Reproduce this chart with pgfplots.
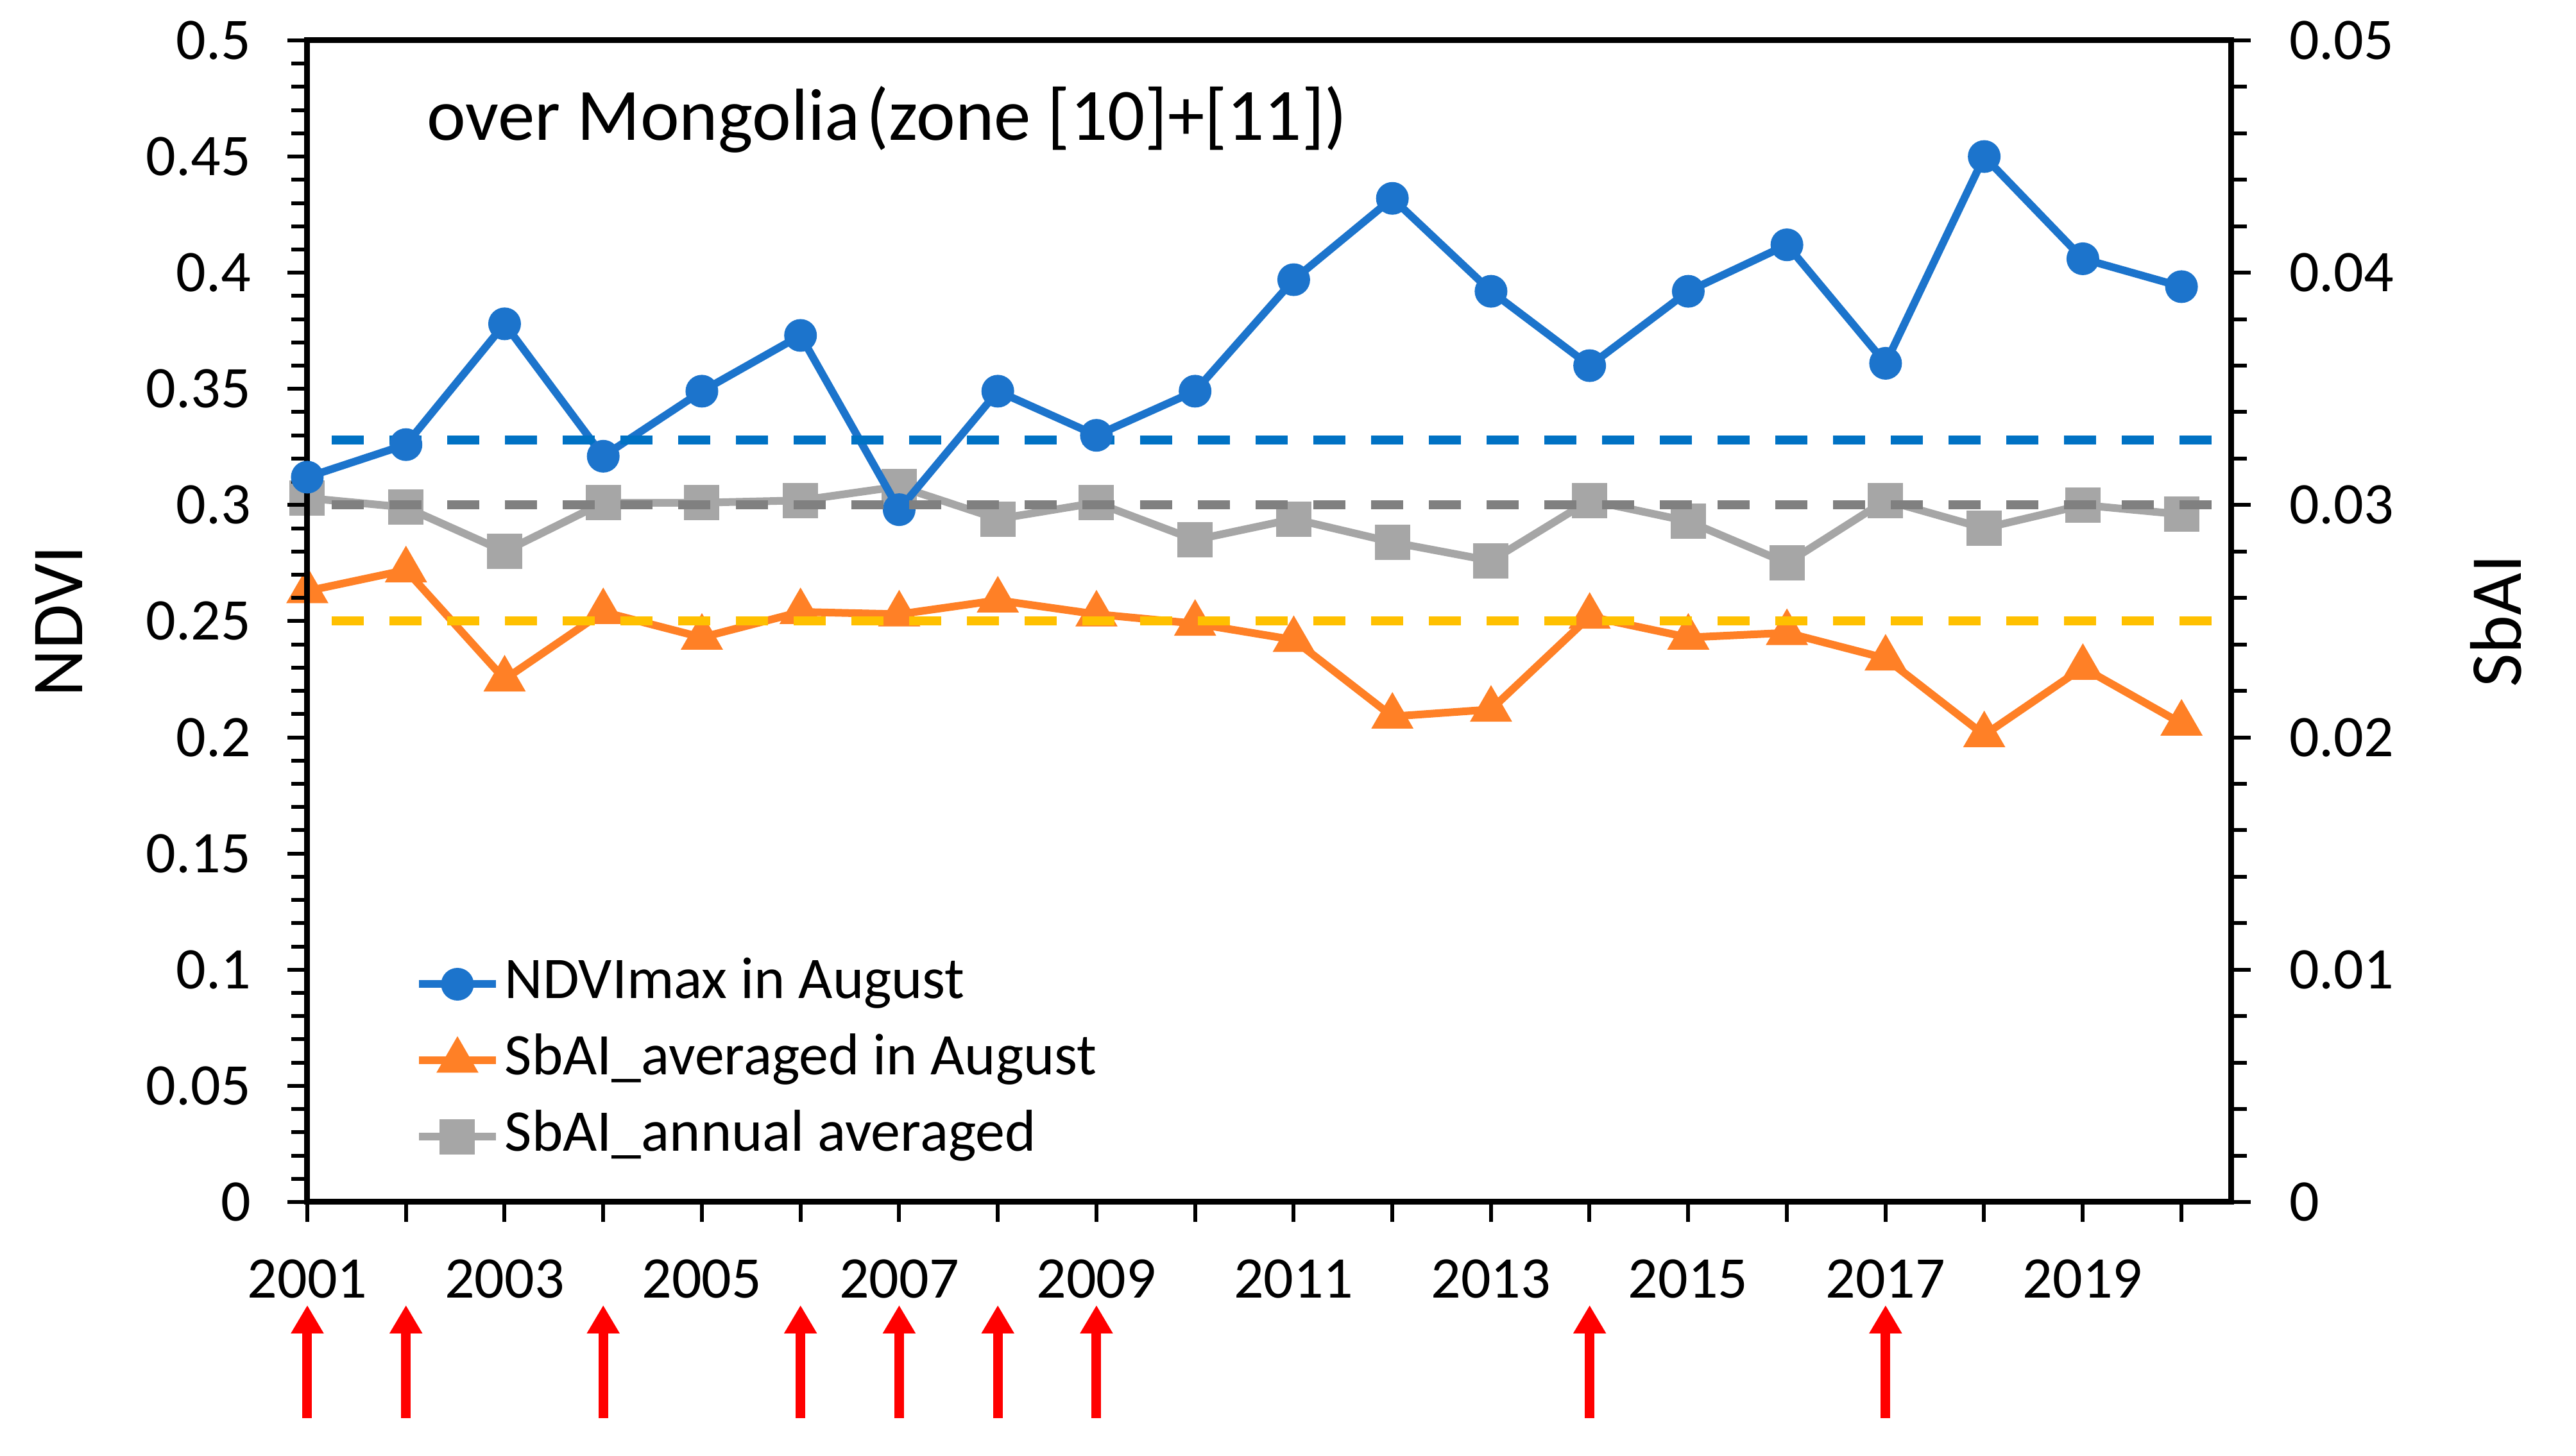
\documentclass[border=0pt]{standalone}
\usepackage{fontspec}
\setmainfont{Carlito}
\usepackage{pgfplots}
\usepackage{pgfplotstable}
\pgfplotsset{compat=1.18}
\usetikzlibrary{arrows.meta,calc}

\definecolor{ndviblue}{RGB}{28,116,204}
\definecolor{sbaiorange}{RGB}{255,128,38}
\definecolor{sbaigray}{RGB}{166,166,166}
\definecolor{refblue}{RGB}{0,114,196}
\definecolor{refgray}{RGB}{128,128,128}
\definecolor{refyellow}{RGB}{255,192,0}

% August NDVImax, August-mean SbAI and annual-mean SbAI over Mongolia
\pgfplotstableread{
year  ndvi    sbaiaug  sbaiann
2001  0.312   0.0263   0.0303
2002  0.326   0.0272   0.0299
2003  0.378   0.0225   0.0280
2004  0.321   0.0254   0.0301
2005  0.349   0.0243   0.0301
2006  0.373   0.0254   0.0302
2007  0.298   0.0253   0.0308
2008  0.349   0.0259   0.0294
2009  0.330   0.0253   0.0301
2010  0.349   0.0249   0.0285
2011  0.397   0.0242   0.0294
2012  0.432   0.0209   0.0284
2013  0.392   0.0212   0.0276
2014  0.360   0.0252   0.0302
2015  0.392   0.0243   0.0293
2016  0.412   0.0245   0.0275
2017  0.361   0.0234   0.0302
2018  0.450   0.0201   0.0290
2019  0.406   0.0230   0.0300
2020  0.394   0.0206   0.0296
}\datatable

\newcommand{\tickfont}{\fontsize{9.2}{11}\selectfont}

\pgfplotsset{
  frame/.style={
    scale only axis, width=299.8pt, height=181.1pt,
    xmin=2001, xmax=2020.5,
    tick align=outside,
    major tick length=3.1pt, minor tick length=2.5pt,
    every tick/.style={black, line width=0.6pt},
    axis line style={line width=0.9pt},
    tick label style={font=\tickfont},
    scaled y ticks=false,
  },
  ndvistyle/.style={ndviblue, line width=1.2pt, mark=*, mark size=2.4pt,
    mark options={solid, line width=0.3pt}},
  augstyle/.style={sbaiorange, line width=1.2pt, mark=triangle*, mark size=3.5pt,
    mark options={solid, line width=0.3pt}},
  annstyle/.style={sbaigray, line width=1.2pt, mark=square*, mark size=2.6pt,
    mark options={solid, line width=0.3pt}},
}

\begin{document}
\begin{tikzpicture}

% SbAI scale on the right
\begin{axis}[frame, name=sbaiax,
  ymin=0, ymax=0.05,
  axis y line*=right, axis x line=none,
  ytick={0,0.01,0.02,0.03,0.04,0.05},
  yticklabels={0,0.01,0.02,0.03,0.04,0.05},
  minor y tick num=4,
  yticklabel style={anchor=west, inner sep=0pt, xshift=5.8pt},
]
\addplot[annstyle] table[x=year, y=sbaiann] {\datatable};
\addplot[augstyle] table[x=year, y=sbaiaug] {\datatable};
\end{axis}

% NDVI scale on the left, frame, years and legend
\begin{axis}[frame, name=ndviax, clip=false,
  ymin=0, ymax=0.5,
  xtick pos=left, ytick pos=left,
  xtick={2001,2002,...,2020},
  xticklabels={2001,,2003,,2005,,2007,,2009,,2011,,2013,,2015,,2017,,2019,},
  xticklabel style={anchor=north, inner sep=0pt, yshift=-5.7pt},
  ytick={0,0.05,0.1,0.15,0.2,0.25,0.3,0.35,0.4,0.45,0.5},
  yticklabels={0,0.05,0.1,0.15,0.2,0.25,0.3,0.35,0.4,0.45,0.5},
  minor y tick num=4,
  yticklabel style={anchor=east, inner sep=0pt, xshift=-5.5pt},
  legend image code/.code={
    \draw[mark repeat=2, mark phase=2, #1]
      plot coordinates {(0pt,0pt) (6pt,0pt) (12pt,0pt)};},
  legend style={at={(rel axis cs:0,0)}, anchor=north west,
    xshift=16.6pt, yshift=38.4pt,
    draw=none, fill=none, inner sep=0pt, row sep=3.4pt, column sep=0.8pt,
    font=\tickfont,
    nodes={inner sep=0pt, text height=6.5pt, text depth=2pt}},
  legend cell align=left,
]
\addplot[ndvistyle] table[x=year, y=ndvi] {\datatable};
\addlegendentry{NDVImax in August}
\addlegendimage{augstyle}
\addlegendentry{SbAI\_averaged in August}
\addlegendimage{annstyle}
\addlegendentry{SbAI\_annual averaged}

\addplot[refblue, line width=1.4pt, dash pattern=on 5pt off 4pt, forget plot]
  coordinates {(2001.25,0.328) (2020.5,0.328)};

\node[anchor=base west, inner sep=0pt, font=\fontsize{11.5}{13}\selectfont]
  at (axis cs:2002.2,0.457) {over Mongolia\hspace{1pt}(zone [10]+[11])};

% years of the drought events
\pgfplotsinvokeforeach{2001,2002,2004,2006,2007,2008,2009,2014,2017}{
  \draw[red, line width=1.5pt, -{Triangle[length=4.4pt, width=4.8pt]}]
    (axis cs:#1,-0.093) -- (axis cs:#1,-0.0444);
}
\end{axis}

% reference levels on the SbAI scale
\begin{axis}[frame, hide axis, ymin=0, ymax=0.05]
\addplot[refgray, line width=1.4pt, dash pattern=on 5pt off 4pt]
  coordinates {(2001.25,0.030) (2020.5,0.030)};
\addplot[refyellow, line width=1.4pt, dash pattern=on 5pt off 4pt]
  coordinates {(2001.25,0.025) (2020.5,0.025)};
\end{axis}

\node[rotate=90, font=\fontsize{11.4}{13}\selectfont]
  at ($(ndviax.west)+(-38.7pt,0pt)$) {NDVI};
\node[rotate=90, font=\fontsize{11.4}{13}\selectfont]
  at ($(ndviax.east)+(41.3pt,0pt)$) {SbAI};

\pgfresetboundingbox
\path[use as bounding box] ($(ndviax.south west)+(-47.9pt,-39.6pt)$) rectangle ++(401.5pt,227pt);
\end{tikzpicture}
\end{document}
